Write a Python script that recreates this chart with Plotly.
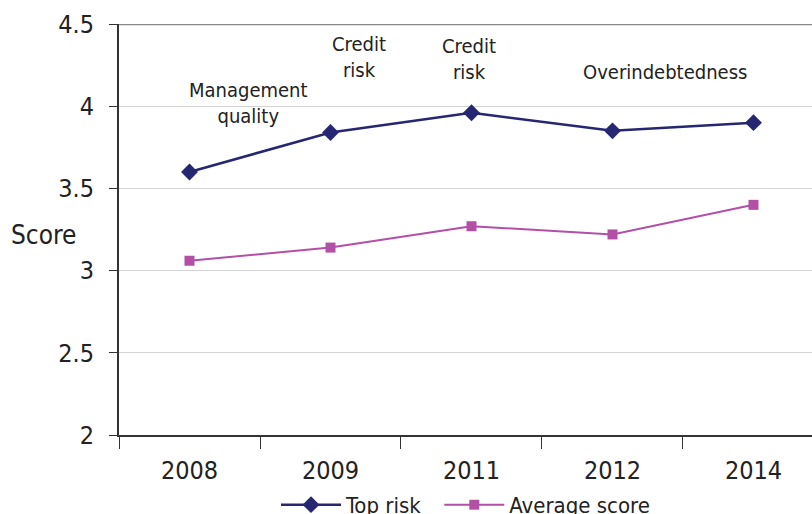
import plotly.graph_objects as go

years = ["2008", "2009", "2011", "2012", "2014"]
top_risk = [3.60, 3.84, 3.96, 3.85, 3.90]
average_score = [3.06, 3.14, 3.27, 3.22, 3.40]
risk_labels = ["Management<br>quality", "Credit<br>risk", "Credit<br>risk", "Overindebtedness", ""]
label_y = [4.02, 4.30, 4.29, 4.21, None]
label_x_offset = [0.42, 0.2, -0.02, 0.37, 0]
series_names = ["Top risk", "Average score"]

FONT = "DejaVu Sans Condensed, DejaVu Sans, sans-serif"
navy = "#262673"
pink = "#b44fa6"

fig = go.Figure()
fig.add_trace(go.Scatter(
    x=years, y=top_risk, name=series_names[0] + "\u00a0\u00a0", mode="lines+markers",
    line=dict(color=navy, width=2.5),
    marker=dict(symbol="diamond", size=13, color=navy),
))
fig.add_trace(go.Scatter(
    x=years, y=average_score, name=series_names[1], mode="lines+markers",
    line=dict(color=pink, width=2),
    marker=dict(symbol="square", size=10, color=pink),
))

for i, (lab, ly) in enumerate(zip(risk_labels, label_y)):
    if not lab:
        continue
    fig.add_annotation(
        x=i + label_x_offset[i], y=ly, xref="x", yref="y", text=lab,
        showarrow=False, font=dict(family=FONT, size=20, color="#222"),
        align="center", yanchor="middle",
    )

fig.add_annotation(
    x=-0.109, y=3.217, xref="paper", yref="y", text="Score", showarrow=False,
    font=dict(family=FONT, size=26, color="#222"), xanchor="center", yanchor="middle",
)

fig.update_layout(
    width=812, height=514,
    margin=dict(l=119, r=0, t=24, b=79, autoexpand=False),
    paper_bgcolor="white", plot_bgcolor="white",
    font=dict(family=FONT, color="#222"),
    showlegend=True,
    legend=dict(orientation="h", x=0.5, xanchor="center", y=-0.17, yanchor="middle",
                font=dict(family=FONT, size=22, color="#222"), itemwidth=60,
                tracegroupgap=0, bgcolor="rgba(0,0,0,0)"),
    xaxis=dict(
        type="category", range=[-0.5, 4.415], automargin=False,
        showline=True, linecolor="#333", linewidth=2,
        ticks="outside", tickson="boundaries", ticklen=12, tickcolor="#333", tickwidth=1,
        showgrid=False, tickfont=dict(family=FONT, size=25, color="#222"),
        ticklabelstandoff=12,
    ),
    yaxis=dict(
        range=[2, 4.5], automargin=False, tickvals=[2, 2.5, 3, 3.5, 4, 4.5],
        ticktext=["2", "2.5", "3", "3.5", "4", "4.5"],
        showline=True, linecolor="#333", linewidth=2,
        ticks="outside", ticklen=8, tickcolor="#333", tickwidth=1,
        showgrid=True, gridcolor="#d4d4d4", gridwidth=1,
        zeroline=False, tickfont=dict(family=FONT, size=25, color="#222"),
        ticklabelstandoff=10,
    ),
)
fig.add_shape(type="line", xref="paper", yref="y", x0=0, x1=1, y0=4.5, y1=4.5,
              line=dict(color="#888", width=2.5))

fig.write_html(
    "out.html",
    config={"displayModeBar": False},
    post_script="document.body.style.margin='0';document.body.style.overflow='hidden';",
)
